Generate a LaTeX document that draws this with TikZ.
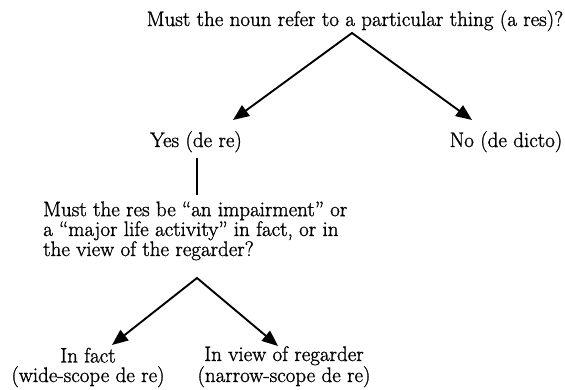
\documentclass[tikz,border=0pt]{standalone}
\usepackage{fontspec}
\setmainfont{Latin Modern Roman}[FakeBold=1.2]
\usetikzlibrary{arrows.meta}
\begin{document}
\begin{tikzpicture}[x=1pt,y=-1pt,
  >={Triangle[length=16pt,width=13pt]},
  lbl/.style={inner sep=0pt, anchor=base, font=\fontsize{21}{17.5}\selectfont},
  low/.style={lbl, align=center, font=\fontsize{21}{19.5}\selectfont},
  ln/.style={line width=1.9pt, line join=miter}]
\useasboundingbox (0,0) rectangle (565,390);
\node[lbl] (q1) at (355,26) {Must the noun refer to a particular thing (a res)?};
\node[lbl] (yes) at (196,147) {Yes (de re)};
\node[lbl] (no) at (506,147) {No (de dicto)};
\node[lbl, align=left, anchor=base west] (q2) at (43,256) {Must the res be “an impairment” or\\a “major life activity” in fact, or in\\the view of the regarder?};
\node[low] (fact) at (88,382) {In fact\\(wide-scope de re)};
\node[low] (view) at (284,382) {In view of regarder\\(narrow-scope de re)};
\coordinate (a1) at (352,33);
\coordinate (t1) at (233,120);
\coordinate (t2) at (472,120);
\coordinate (v1) at (197,158);
\coordinate (v2) at (197,195);
\coordinate (a2) at (197,278);
\coordinate (t3) at (112,345);
\coordinate (t4) at (278,346);
\draw[ln, <->] (t1) -- (a1) -- (t2);
\draw[ln] (v1) -- (v2);
\draw[ln, <->] (t3) -- (a2) -- (t4);
\end{tikzpicture}
\end{document}
